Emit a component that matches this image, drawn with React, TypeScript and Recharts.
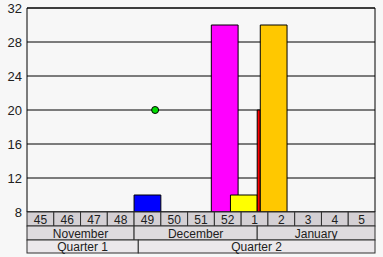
import React from 'react';
import { ComposedChart, XAxis, YAxis, CartesianGrid, Scatter, ReferenceArea } from 'recharts';

// Time axis in days from the start of week 45
const weeks = ['45', '46', '47', '48', '49', '50', '51', '52', '1', '2', '3', '4', '5'];
const weekStarts = [0, 7, 14, 21, 28, 35, 42, 49, 56, 63, 70, 77, 84];
const months = ['November', 'December', 'January'];
const monthStarts = [0, 28, 60.2];
const monthEnds = [28, 60.2, 91];
const quarters = ['Quarter 1', 'Quarter 2'];
const quarterStarts = [0, 29.1];
const quarterEnds = [29.1, 91];

const barStarts = [28, 48.2, 53.2, 60.2, 61];
const barEnds = [35, 55.2, 60.2, 61, 68];
const barValues = [10, 30, 10, 20, 30];
const barColors = ['#0000ff', '#ff00ff', '#ffff00', '#ff0000', '#ffc800'];

const pointX = [33.5];
const pointY = [20];

const yTicks = [8, 12, 16, 20, 24, 28, 32];

const W = 383;
const H = 257;
const M = { top: 8, right: 8, left: 0, bottom: 4 };
const Y_W = 27;
const DAYS = 91;
const PLOT_W = W - M.right - M.left - Y_W;
const PX = PLOT_W / DAYS;

const dotData = pointX.map((x, i) => ({ x, y: pointY[i] }));

const FONT = 'Arial, "Liberation Sans", sans-serif';

function makeTick(labels: string[], starts: number[], ends: number[], h: number, fill: string) {
  return (props: any) => {
    const { x, y, index } = props;
    const w = (ends[index] - starts[index]) * PX;
    const left = x - w / 2;
    return (
      <g>
        <rect x={left} y={y} width={w} height={h} fill={fill} stroke="#303030" strokeWidth={1} />
        <text x={x} y={y + h / 2 + 4.5} textAnchor="middle" fontSize={12} fontFamily={FONT} fill="#202020">
          {labels[index]}
        </text>
      </g>
    );
  };
}

const weekEnds = weekStarts.map((s) => s + 7);
const weekMid = weekStarts.map((s, i) => (s + weekEnds[i]) / 2);
const monthMid = monthStarts.map((s, i) => (s + monthEnds[i]) / 2);
const quarterMid = quarterStarts.map((s, i) => (s + quarterEnds[i]) / 2);

const hidden = () => null;

export default function App() {
  return (
    <div style={{ position: 'absolute', left: 0, top: 0, width: W, height: H, background: '#f7f7f7' }}>
      <ComposedChart width={W} height={H} data={dotData} margin={M}>
        <CartesianGrid horizontal vertical={false} stroke="#000" strokeOpacity={1} xAxisId="a" />
        <XAxis
          xAxisId="a"
          type="number"
          dataKey="x"
          domain={[0, DAYS]}
          ticks={weekMid}
          interval={0}
          height={14}
          tickSize={0}
          tickMargin={0}
          axisLine={false}
          tickLine={false}
          tick={makeTick(weeks, weekStarts, weekEnds, 14, '#d4d0d4')}
          allowDataOverflow
        />
        <XAxis
          xAxisId="b"
          type="number"
          dataKey="x"
          domain={[0, DAYS]}
          ticks={monthMid}
          interval={0}
          height={14}
          tickSize={0}
          tickMargin={0}
          axisLine={false}
          tickLine={false}
          tick={makeTick(months, monthStarts, monthEnds, 14, '#dedbde')}
          allowDataOverflow
        />
        <XAxis
          xAxisId="c"
          type="number"
          dataKey="x"
          domain={[0, DAYS]}
          ticks={quarterMid}
          interval={0}
          height={13}
          tickSize={0}
          tickMargin={0}
          axisLine={false}
          tickLine={false}
          tick={makeTick(quarters, quarterStarts, quarterEnds, 13, '#ebe8eb')}
          allowDataOverflow
        />
        <YAxis
          type="number"
          domain={[8, 32]}
          ticks={yTicks}
          interval={0}
          width={Y_W}
          tickSize={0}
          tickMargin={5}
          axisLine={false}
          tickLine={false}
          tick={{ fontSize: 13, fontFamily: FONT, fill: '#202020' }}
          allowDataOverflow
        />
        {barValues.map((v, i) => (
          <ReferenceArea
            key={i}
            xAxisId="a"
            x1={barStarts[i]}
            x2={barEnds[i]}
            y1={8}
            y2={v}
            fill={barColors[i]}
            fillOpacity={1}
            stroke="#000"
            strokeWidth={1}
            ifOverflow="visible"
          />
        ))}
        <ReferenceArea
          xAxisId="a"
          x1={0}
          x2={DAYS}
          y1={8}
          y2={32}
          fill="none"
          stroke="#000"
          strokeWidth={1}
          ifOverflow="visible"
        />
        <Scatter xAxisId="b" dataKey="y" isAnimationActive={false} shape={hidden} />
        <Scatter xAxisId="c" dataKey="y" isAnimationActive={false} shape={hidden} />
        <Scatter
          xAxisId="a"
          dataKey="y"
          fill="#00dd00"
          stroke="#000"
          strokeWidth={1}
          isAnimationActive={false}
          shape={(p: any) => <circle cx={p.cx} cy={p.cy} r={3.5} fill="#00dd00" stroke="#000" strokeWidth={1} />}
        />
      </ComposedChart>
    </div>
  );
}
